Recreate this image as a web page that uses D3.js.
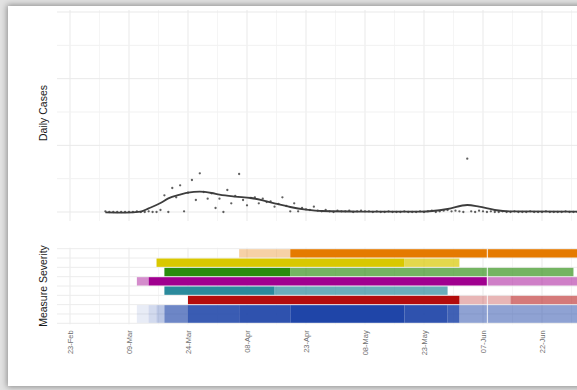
<!DOCTYPE html>
<html><head><meta charset="utf-8">
<script src="https://cdn.jsdelivr.net/npm/d3@7"></script>
<style>
html,body{margin:0;padding:0;width:577px;height:390px;overflow:hidden;background:#e2e2e2;}
#card{position:absolute;left:8px;top:6px;width:740px;height:380px;background:#fff;box-shadow:0 0 6px 1px rgba(0,0,0,0.38);}
svg{position:absolute;left:0;top:0;}
text{font-family:"Liberation Sans",Arial,Helvetica,sans-serif;}
</style></head><body><div id="card"></div>
<script>
// ---------- data ----------
const casesStart = "2020-03-03";
const dailyCases = [1,0,0,0,0,0,0,0,1,0,0,1,0,0,3,25,0,36,22,40,1,29,48,18,58,30,20,28,6,20,0,33,13,24,57,18,10,21,22,13,20,15,16,8,12,22,9,1,13,1,6,4,3,8,2,1,3,1,0,2,1,1,2,0,1,2,1,1,0,1,0,0,1,0,0,0,1,0,0,0,1,0,1,2,0,1,2,3,1,2,1,0,80,1,0,2,1,0,1,0,0,1,0,0,1,0,0,0,1,0,0,0,1,0,0,0,0,1,0,0,0,1];
const smoothDates = ["2020-03-03","2020-03-08","2020-03-12","2020-03-14","2020-03-17","2020-03-19","2020-03-22","2020-03-24","2020-03-27","2020-03-30","2020-04-01","2020-04-05","2020-04-09","2020-04-12","2020-04-15","2020-04-19","2020-04-23","2020-04-27","2020-05-07","2020-05-22","2020-05-29","2020-06-03","2020-06-06","2020-06-10","2020-06-14","2020-07-01","2020-07-12"];
const smoothValues = [-0.7,-1,0.7,5.5,13.5,20.5,26,29,30.5,28.5,26,23,21,17.5,13,7.5,3.7,1.5,0.7,0.5,4.5,10.5,8,3,1,0.7,0.7];
const tickDates = ["2020-02-23","2020-03-09","2020-03-24","2020-04-08","2020-04-23","2020-05-08","2020-05-23","2020-06-07","2020-06-22"];
const tickLabels = ["23-Feb","09-Mar","24-Mar","08-Apr","23-Apr","08-May","23-May","07-Jun","22-Jun"];
const caseBreaks = [0,50,100,150,200,250,300];

const measures = ["Workplace closing","Public events","Gatherings","Stay at home","Public transport","School closing","International travel"];
const measureColors = ["#E57A00","#D9C800","#2A8C0E","#A0008F","#2B8A9C","#B30C0C","#1F45A8"];
const seg0 = [["2020-04-06","2020-04-19",0.35],["2020-04-19","2020-06-08",1],["2020-06-08","2020-07-15",1]];
const seg1 = [["2020-03-16","2020-05-18",1],["2020-05-18","2020-06-01",0.7]];
const seg2 = [["2020-03-18","2020-04-19",1],["2020-04-19","2020-06-08",0.65],["2020-06-08","2020-06-30",0.65]];
const seg3 = [["2020-03-11","2020-03-14",0.45],["2020-03-14","2020-06-08",1],["2020-06-08","2020-07-15",0.5]];
const seg4 = [["2020-03-18","2020-04-15",1],["2020-04-15","2020-05-29",0.7]];
const seg5 = [["2020-03-24","2020-06-01",1],["2020-06-01","2020-06-14",0.3],["2020-06-14","2020-07-15",0.55]];
const seg6 = [["2020-03-11","2020-03-14",0.1],["2020-03-14","2020-03-16",0.2],["2020-03-16","2020-03-18",0.3],["2020-03-18","2020-03-24",0.65],["2020-03-24","2020-04-06",0.88],["2020-04-06","2020-04-19",0.93],["2020-04-19","2020-05-18",1],["2020-05-18","2020-05-29",0.93],["2020-05-29","2020-06-01",0.85],["2020-06-01","2020-07-15",0.5]];
const measureSegments = [seg0,seg1,seg2,seg3,seg4,seg5,seg6];
const measureRows = [0,1,2,3,4,5,6];
const measureSpan = [1,1,1,1,1,1,2];
const breakDates = ["2020-06-08"];

// ---------- drawing ----------
const parse = d3.utcParse("%Y-%m-%d");
const W = 760, H = 390;
const left = 57, right = 760;
const svg = d3.select("body").append("svg").attr("width", W).attr("height", H);

const x = d3.scaleUtc().domain([parse("2020-02-23"), parse("2020-06-22")]).range([70, 542]);
const yC = d3.scaleLinear().domain([-13.5, 303]).range([221, 10]);
const top0 = 10, top1 = 221, bot0 = 248.7, bot1 = 323.3;
const yRow = d3.scaleBand().domain(d3.range(8)).range([bot0, bot1]).paddingInner(0);

const majorX = tickDates.map(parse);
const minorX = majorX.map(d => d3.utcHour.offset(d, 180)).concat([d3.utcHour.offset(majorX[0], -180)]);

svg.append("clipPath").attr("id","clip").append("rect").attr("x",left).attr("y",0).attr("width",right-left).attr("height",H);
const g = svg.append("g").attr("clip-path","url(#clip)");

function vgrid(y0, y1){
  g.append("g").selectAll("line").data(minorX).join("line")
    .attr("x1", d=>x(d)).attr("x2", d=>x(d)).attr("y1", y0).attr("y2", y1)
    .attr("stroke", "#f2f2f2").attr("stroke-width", 0.8);
  g.append("g").selectAll("line").data(majorX).join("line")
    .attr("x1", d=>x(d)).attr("x2", d=>x(d)).attr("y1", y0).attr("y2", y1)
    .attr("stroke", "#e9e9e9").attr("stroke-width", 1);
}
// top panel grid
vgrid(top0, top1);
g.append("g").selectAll("line").data(caseBreaks).join("line")
  .attr("x1", left).attr("x2", right).attr("y1", d=>yC(d)).attr("y2", d=>yC(d))
  .attr("stroke", (d,i)=> i%2===0 ? "#e9e9e9" : "#f1f1f1").attr("stroke-width", 1);

// points
const start = parse(casesStart);
const pts = dailyCases.map((v,i)=>({date: d3.utcDay.offset(start, i), v}));
g.append("g").selectAll("circle").data(pts).join("circle")
  .attr("cx", d=>x(d.date)).attr("cy", d=>yC(d.v)).attr("r", 1.15)
  .attr("fill", "#2b2b2b").attr("fill-opacity", 0.75);

// smooth line
const sm = smoothDates.map((d,i)=>({date: parse(d), v: smoothValues[i]}));
g.append("path").datum(sm)
  .attr("d", d3.line().x(d=>x(d.date)).y(d=>yC(d.v)).curve(d3.curveMonotoneX))
  .attr("fill","none").attr("stroke","#3d3d3d").attr("stroke-width",1.8);

// bottom panel grid
vgrid(bot0-1, bot1+1);
g.append("g").selectAll("line").data(d3.range(9)).join("line")
  .attr("x1", left).attr("x2", right)
  .attr("y1", d=>bot0 + d*yRow.step()).attr("y2", d=>bot0 + d*yRow.step())
  .attr("stroke", "#ececec").attr("stroke-width", 1);

// measure bars
measures.forEach((m, mi) => {
  const row = measureRows[mi], span = measureSpan[mi];
  g.append("g").selectAll("rect").data(measureSegments[mi]).join("rect")
    .attr("x", d=>x(parse(d[0])))
    .attr("width", d=>x(parse(d[1])) - x(parse(d[0])))
    .attr("y", yRow(row) + 0.5)
    .attr("height", yRow.step()*span - 1)
    .attr("fill", measureColors[mi])
    .attr("fill-opacity", d=>d[2]);
});
g.append("g").selectAll("line").data(breakDates).join("line")
  .attr("x1", d=>x(parse(d))+0.5).attr("x2", d=>x(parse(d))+0.5)
  .attr("y1", bot0).attr("y2", bot1)
  .attr("stroke", "#fff").attr("stroke-opacity", 0.75).attr("stroke-width", 1.2);

// x axis
const ax = svg.append("g").attr("transform", `translate(0,${bot1+2})`)
  .call(d3.axisBottom(x).tickValues(majorX).tickFormat((d,i)=>tickLabels[i]).tickSize(0));
ax.select(".domain").remove();
ax.selectAll("text")
  .attr("transform","rotate(-90)")
  .attr("text-anchor","end")
  .attr("x", -5).attr("y", 0).attr("dy","0.32em")
  .attr("fill","#6e6e6e")
  .style("font-size","7.5px")
  .style("font-family","'Liberation Sans',Arial,sans-serif");

// axis titles
svg.append("text").attr("transform", `translate(43,113) rotate(-90)`)
  .attr("text-anchor","middle").attr("dominant-baseline","central")
  .style("font-size","10.5px").attr("fill","#1a1a1a").text("Daily Cases");
svg.append("text").attr("transform", `translate(43,${(bot0+bot1)/2}) rotate(-90)`)
  .attr("text-anchor","middle").attr("dominant-baseline","central")
  .style("font-size","10.5px").attr("fill","#1a1a1a").text("Measure Severity");
</script></body></html>
